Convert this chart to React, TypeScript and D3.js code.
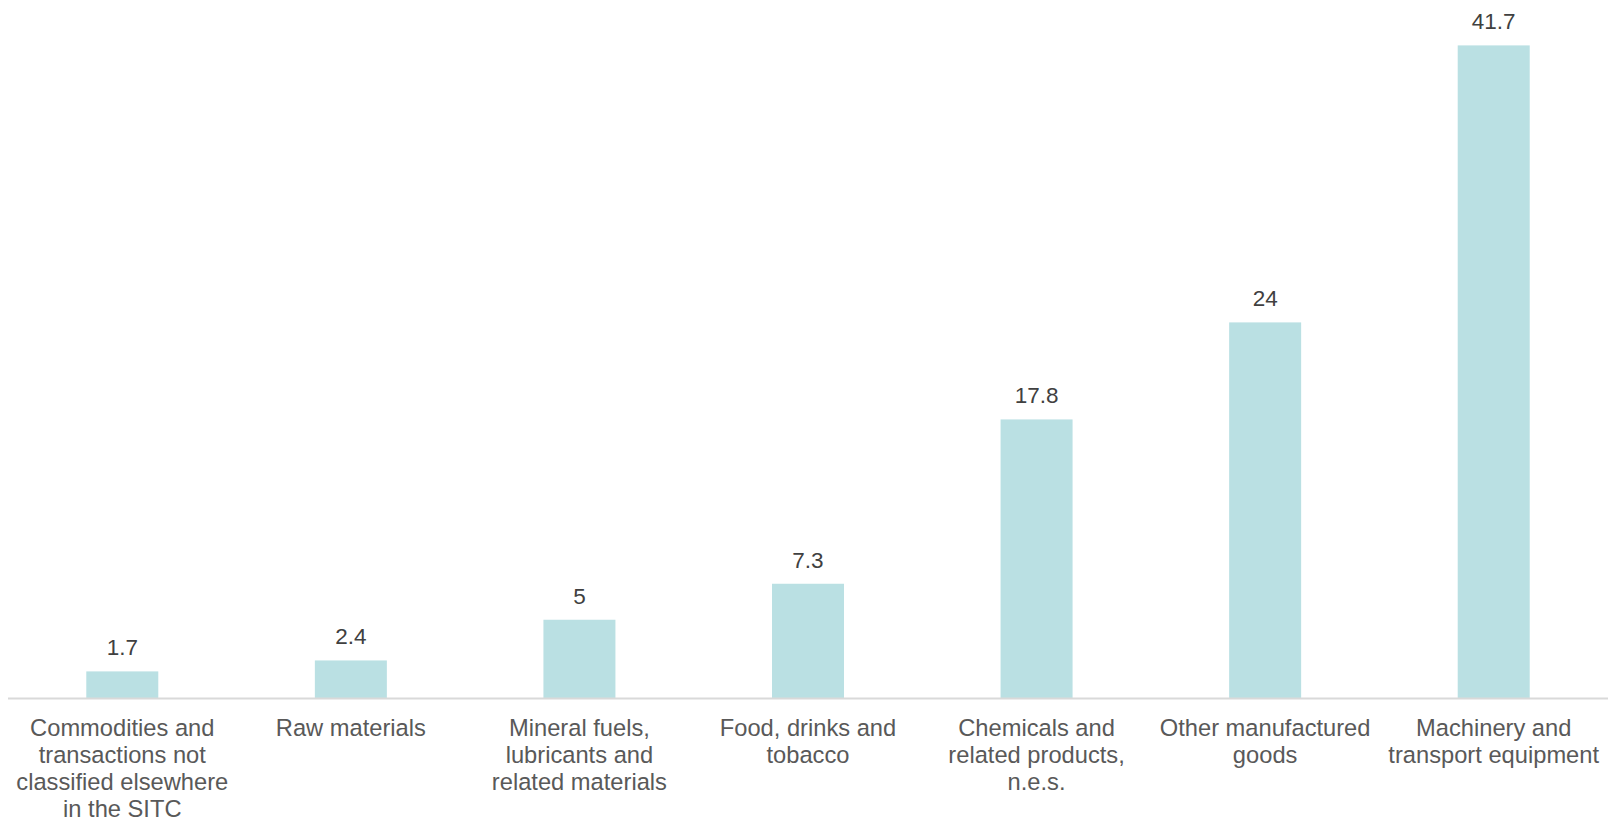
import React from "react";
import * as d3 from "d3";

const categories = [
  "Commodities and transactions not classified elsewhere in the SITC",
  "Raw materials",
  "Mineral fuels, lubricants and related materials",
  "Food, drinks and tobacco",
  "Chemicals and related products, n.e.s.",
  "Other manufactured goods",
  "Machinery and transport equipment",
];
const categoryLines = [
  ["Commodities and", "transactions not", "classified elsewhere", "in the SITC"],
  ["Raw materials"],
  ["Mineral fuels,", "lubricants and", "related materials"],
  ["Food, drinks and", "tobacco"],
  ["Chemicals and", "related products,", "n.e.s."],
  ["Other manufactured", "goods"],
  ["Machinery and", "transport equipment"],
];
const values = [1.7, 2.4, 5, 7.3, 17.8, 24, 41.7];

const W = 1615;
const H = 821;
const axisLeft = 8;
const axisRight = 1608;
const baseY = 698;

export default function App() {
  const x = d3
    .scaleBand<string>()
    .domain(categories)
    .range([axisLeft, axisRight])
    .paddingInner(0.685)
    .paddingOuter(0.3425);
  const y = d3.scaleLinear().domain([0, 44]).range([baseY, baseY - 44 * 15.65]);
  const font = "'Liberation Sans', Arial, sans-serif";
  return (
    <svg
      width={W}
      height={H}
      style={{ position: "fixed", left: 0, top: 0, background: "#fff" }}
    >
      {categories.map((c, i) => {
        const bx = x(c)!;
        const bw = x.bandwidth();
        const cx = bx + bw / 2;
        const v = values[i];
        return (
          <g key={c}>
            <rect x={bx} y={y(v)} width={bw} height={y(0) - y(v)} fill="#BAE0E3" />
            <text
              x={cx}
              y={y(v) - 16}
              textAnchor="middle"
              fontFamily={font}
              fontSize={22.5}
              fill="#404040"
            >
              {String(v)}
            </text>
            <text
              x={cx}
              y={736}
              textAnchor="middle"
              fontFamily={font}
              fontSize={23.7}
              fill="#595959"
            >
              {categoryLines[i].map((l, j) => (
                <tspan key={j} x={cx} dy={j === 0 ? 0 : 27}>
                  {l}
                </tspan>
              ))}
            </text>
          </g>
        );
      })}
      <line x1={axisLeft} x2={axisRight} y1={baseY + 0.5} y2={baseY + 0.5} stroke="#D9D9D9" strokeWidth={2} />
    </svg>
  );
}
